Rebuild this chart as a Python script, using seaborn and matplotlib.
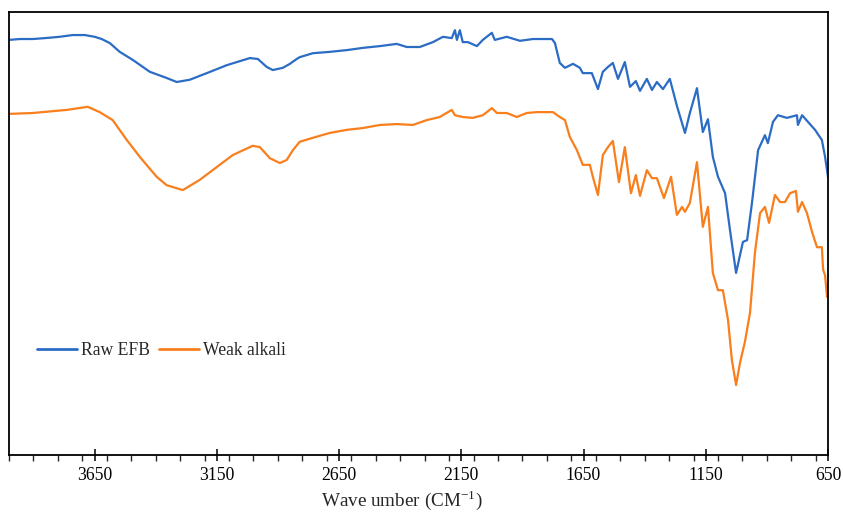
import matplotlib
matplotlib.use("Agg")
import matplotlib.pyplot as plt
import seaborn as sns
import pandas as pd
from matplotlib.ticker import MultipleLocator, FixedLocator

# Wavenumbers (cm-1) and transmittance-like values
raw_wn = [4000, 3956, 3903, 3854, 3793, 3739, 3690, 3670, 3649, 3621, 3588, 3547, 3494, 3424,
          3355, 3314, 3261, 3191, 3109, 3015, 2982, 2946, 2921, 2880, 2851, 2823, 2811, 2757,
          2688, 2618, 2553, 2483, 2414, 2373, 2320, 2266, 2225, 2189, 2176, 2168, 2156, 2144,
          2123, 2086, 2062, 2025, 2013, 1964, 1910, 1857, 1779, 1767, 1747, 1726, 1693, 1665,
          1653, 1616, 1591, 1571, 1550, 1530, 1509, 1481, 1460, 1436, 1419, 1391, 1370, 1350,
          1325, 1297, 1268, 1235, 1215, 1186, 1162, 1141, 1121, 1100, 1071, 1051, 1026, 998,
          981, 961, 936, 908, 896, 875, 855, 818, 777, 773, 756, 732, 703, 675, 662, 650]
raw_t = [93.7, 93.9, 93.9, 94.1, 94.4, 94.8, 94.8, 94.6, 94.4, 93.9, 93.0, 91.0, 89.2, 86.5,
         85.1, 84.2, 84.7, 86.2, 88.0, 89.6, 89.4, 87.6, 86.9, 87.4, 88.3, 89.4, 89.8, 90.7,
         91.0, 91.4, 91.9, 92.3, 92.8, 92.1, 92.1, 93.2, 94.4, 94.1, 95.9, 93.7, 95.9, 93.2,
         93.2, 92.3, 93.7, 95.3, 93.7, 94.4, 93.5, 93.9, 93.9, 93.0, 88.5, 87.4, 88.3, 87.4,
         86.2, 86.2, 82.6, 86.5, 87.6, 88.5, 84.9, 88.7, 83.1, 84.4, 82.2, 84.9, 82.4, 84.2,
         82.6, 84.9, 78.8, 72.7, 77.2, 82.8, 72.9, 75.8, 67.3, 62.8, 59.1, 50.8, 41.1, 48.1,
         48.5, 56.9, 68.8, 72.2, 70.4, 75.2, 76.7, 76.1, 76.7, 74.5, 76.7, 75.2, 73.4, 71.1,
         67.3, 62.8]

weak_wn = [4000, 3903, 3764, 3678, 3629, 3576, 3518, 3465, 3396, 3355, 3289, 3220, 3150, 3085,
           3003, 2974, 2933, 2892, 2864, 2839, 2811, 2757, 2688, 2618, 2553, 2483, 2414, 2348,
           2291, 2238, 2189, 2176, 2144, 2103, 2062, 2025, 2004, 1964, 1923, 1882, 1841, 1775,
           1747, 1726, 1706, 1677, 1653, 1624, 1612, 1591, 1571, 1550, 1530, 1505, 1481, 1456,
           1436, 1419, 1391, 1370, 1350, 1321, 1292, 1268, 1247, 1235, 1215, 1186, 1162, 1141,
           1121, 1100, 1080, 1059, 1043, 1026, 1010, 990, 969, 949, 928, 908, 891, 867, 846,
           826, 805, 781, 773, 756, 736, 715, 695, 675, 670, 662, 654, 650]
weak_t = [77.0, 77.2, 77.9, 78.6, 77.4, 75.6, 71.1, 67.3, 62.8, 60.9, 59.8, 62.1, 65.0, 67.7,
          69.8, 69.5, 67.0, 65.9, 66.6, 68.8, 70.7, 71.6, 72.7, 73.4, 73.8, 74.5, 74.7, 74.5,
          75.6, 76.3, 77.9, 76.7, 76.3, 76.1, 76.7, 78.3, 77.2, 77.2, 76.3, 77.2, 77.4, 77.4,
          76.3, 75.6, 71.8, 68.8, 65.5, 65.5, 62.8, 58.7, 67.7, 69.5, 70.9, 61.6, 69.5, 59.1,
          63.2, 58.5, 64.3, 62.5, 62.5, 58.0, 62.8, 54.2, 56.0, 54.9, 56.9, 66.1, 51.5, 56.0,
          41.1, 37.2, 37.2, 30.5, 21.4, 15.8, 20.8, 25.5, 32.1, 45.6, 54.6, 56.0, 52.4, 58.7,
          57.1, 57.1, 59.1, 59.6, 54.9, 57.1, 54.6, 50.3, 46.9, 46.9, 41.8, 40.6, 35.7, 38.1]

series_names = ["Raw EFB", "Weak alkali"]
series_colors = ["#2B6CC4", "#F97E1C"]
major_ticks = [3650, 3150, 2650, 2150, 1650, 1150, 650]

df = pd.concat([
    pd.DataFrame({"wn": raw_wn, "T": raw_t, "sample": series_names[0]}),
    pd.DataFrame({"wn": weak_wn, "T": weak_t, "sample": series_names[1]}),
], ignore_index=True)

sns.set_theme(style="white")
plt.rcParams["font.family"] = ["Liberation Serif", "DejaVu Serif"]
plt.rcParams["mathtext.fontset"] = "custom"
plt.rcParams["mathtext.rm"] = "Liberation Serif"

fig = plt.figure(figsize=(8.43, 5.16), dpi=100)
ax = fig.add_axes([9/843, 61/516, 819/843, 443/516])

sns.lineplot(data=df, x="wn", y="T", hue="sample", palette=series_colors,
             hue_order=series_names, estimator=None, sort=True, linewidth=1.6, ax=ax)

ax.set_xlim(4000, 650)
ax.set_ylim(0, 100)
ax.set_yticks([])
ax.set_ylabel("")
ax.xaxis.set_major_locator(FixedLocator(major_ticks))
ax.xaxis.set_minor_locator(MultipleLocator(100))
ax.tick_params(axis="x", which="major", direction="inout", length=8, width=1.1,
               labelsize=12.7, pad=5, colors="black", bottom=True)
ax.tick_params(axis="x", which="minor", direction="out", length=4, width=1.0,
               bottom=True)
ax.set_xlabel("Wave umber (CM$^{-1}$)", fontsize=13.8, labelpad=4)
ax.xaxis.set_label_coords(0.48, -0.075)

for s in ax.spines.values():
    s.set_visible(True)
    s.set_color("black")
    s.set_linewidth(1.3)

leg = ax.legend(loc="center left", bbox_to_anchor=(0.034, 0.235), ncol=2, frameon=False,
                fontsize=12.7, handlelength=2.3, handletextpad=0.2, columnspacing=0.5,
                borderpad=0, borderaxespad=0)
for line in leg.get_lines():
    line.set_linewidth(2)

fig.savefig("out.png", dpi=100)
